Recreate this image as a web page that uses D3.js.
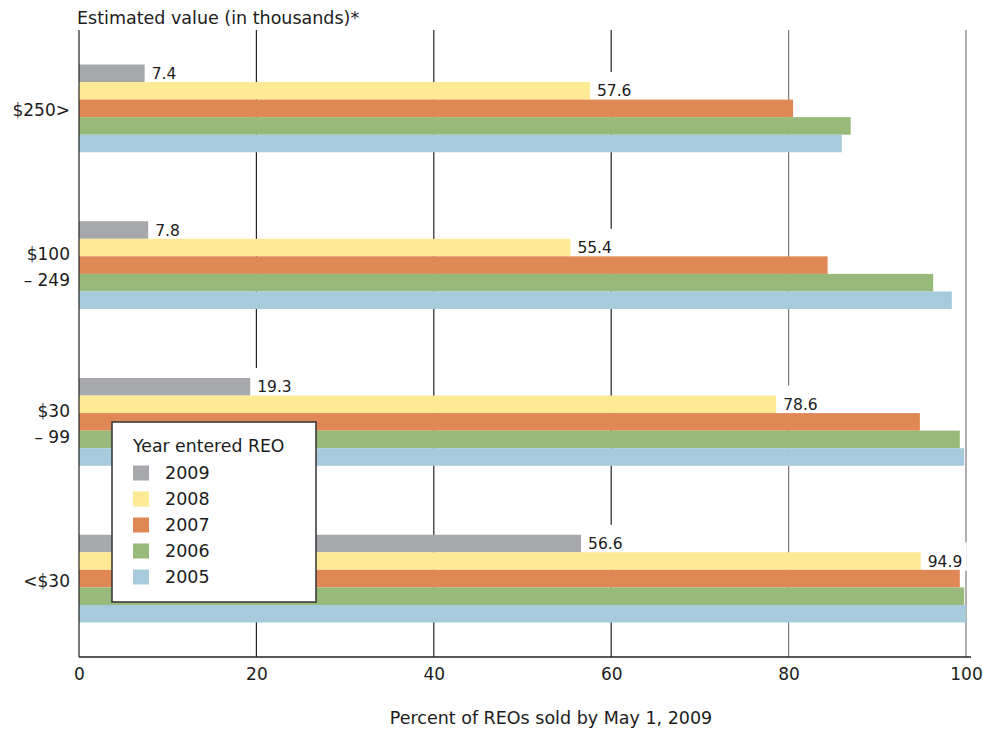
<!DOCTYPE html>
<html>
<head>
<meta charset="utf-8">
<script src="https://cdn.jsdelivr.net/npm/d3@7"></script>
<style>
  body { margin: 0; background: #fff; }
  svg { display: block; font-family: "DejaVu Sans", "Noto Sans", sans-serif; }
</style>
</head>
<body>
<svg id="chart" width="993" height="730"></svg>
<script>
// ---- data ----
const categories = ["$250>", "$100\n– 249", "$30\n– 99", "<$30"];
const years = ["2009", "2008", "2007", "2006", "2005"];
const colors = ["#a7a8ac", "#fee994", "#df8855", "#97ba7a", "#a7cbdc"];
const values2009 = [7.4, 7.8, 19.3, 56.6];
const values2008 = [57.6, 55.4, 78.6, 94.9];
const values2007 = [80.5, 84.4, 94.8, 99.3];
const values2006 = [87.0, 96.3, 99.3, 99.8];
const values2005 = [86.0, 98.4, 99.8, 100];
const labelledYears = ["2009", "2008"];
const xTicks = [0, 20, 40, 60, 80, 100];
const titleText = "Estimated value (in thousands)*";
const xTitle = "Percent of REOs sold by May 1, 2009";
const legendTitle = "Year entered REO";

const seriesValues = [values2009, values2008, values2007, values2006, values2005];
const rows = [];
categories.forEach((c, ci) => {
  years.forEach((y, yi) => rows.push({ cat: c, year: y, value: seriesValues[yi][ci], color: colors[yi] }));
});

// ---- layout ----
const svg = d3.select("#chart");
const mLeft = 79, mRight = 966, mTop = 30, mBottom = 657;
const ink = "#1c1c1c";

const x = d3.scaleLinear().domain([0, 100]).range([mLeft, mRight]);
const y0 = d3.scaleBand().domain(categories).range([mTop, mBottom]).paddingInner(0.44).paddingOuter(0.22);
const y1 = d3.scaleBand().domain(years).range([0, y0.bandwidth()]);
const color = d3.scaleOrdinal().domain(years).range(colors);

// gridlines
svg.append("g").selectAll("line").data(xTicks.slice(1)).join("line")
  .attr("x1", d => x(d)).attr("x2", d => x(d))
  .attr("y1", mTop).attr("y2", mBottom)
  .attr("stroke", d => d >= 80 ? "#7a7a7a" : "#222")
  .attr("stroke-width", 1.2);

const labelled = rows.filter(r => labelledYears.includes(r.year));

// label backgrounds (hide gridlines behind labels)
svg.append("g").selectAll("rect").data(labelled).join("rect")
  .attr("x", d => x(d.value))
  .attr("y", d => y0(d.cat) + y1(d.year) - 10)
  .attr("width", d => d3.format(".1f")(d.value).length * 9 + 10)
  .attr("height", y1.bandwidth() + 11)
  .attr("fill", "#fff");

// bars
svg.append("g").selectAll("rect").data(rows).join("rect")
  .attr("x", x(0))
  .attr("y", d => y0(d.cat) + y1(d.year))
  .attr("width", d => x(d.value) - x(0))
  .attr("height", y1.bandwidth())
  .attr("fill", d => color(d.year));

// value labels
svg.append("g").selectAll("text").data(labelled).join("text")
  .attr("x", d => x(d.value) + 7)
  .attr("y", d => y0(d.cat) + y1(d.year) + y1.bandwidth() / 2 + 1)
  .attr("dominant-baseline", "middle")
  .attr("font-size", 15.5)
  .attr("fill", ink)
  .text(d => d3.format(".1f")(d.value));

// left axis line and bottom axis line
svg.append("line").attr("x1", mLeft).attr("x2", mLeft).attr("y1", mTop).attr("y2", mBottom)
  .attr("stroke", "#222").attr("stroke-width", 1.2);
svg.append("line").attr("x1", mLeft).attr("x2", x(100) + 5).attr("y1", mBottom).attr("y2", mBottom)
  .attr("stroke", "#222").attr("stroke-width", 1.4);

// x tick labels via axis
const xAxis = svg.append("g").attr("transform", `translate(0,${mBottom})`)
  .call(d3.axisBottom(x).tickValues(xTicks).tickSize(0).tickPadding(11));
xAxis.select(".domain").remove();
xAxis.selectAll("text").attr("font-size", 17).attr("fill", ink).attr("font-family", "DejaVu Sans, sans-serif");

// category labels
const catG = svg.append("g");
categories.forEach(c => {
  const lines = c.split("\n");
  const cy = y0(c) + y0.bandwidth() / 2;
  const lh = 26;
  lines.forEach((ln, i) => {
    catG.append("text")
      .attr("x", 70)
      .attr("y", cy + (i - (lines.length - 1) / 2) * lh + 3)
      .attr("text-anchor", "end")
      .attr("dominant-baseline", "middle")
      .attr("font-size", 17)
      .attr("fill", ink)
      .text(ln);
  });
});

// titles
svg.append("text").attr("x", 77).attr("y", 24).attr("font-size", 17.5).attr("fill", ink).text(titleText);
svg.append("text").attr("x", 551).attr("y", 724).attr("text-anchor", "middle")
  .attr("font-size", 17.5).attr("fill", ink).text(xTitle);

// legend
const lg = svg.append("g");
lg.append("rect").attr("x", 112).attr("y", 422).attr("width", 204).attr("height", 180)
  .attr("fill", "#fff").attr("stroke", "#333").attr("stroke-width", 1.5);
lg.append("text").attr("x", 133).attr("y", 452).attr("font-size", 17.3).attr("fill", ink).text(legendTitle);
const ly = d3.scalePoint().domain(years).range([473, 577]);
lg.selectAll("rect.sw").data(years).join("rect").attr("class", "sw")
  .attr("x", 133).attr("y", d => ly(d) - 7.5).attr("width", 16).attr("height", 15)
  .attr("fill", d => color(d));
lg.selectAll("text.lt").data(years).join("text").attr("class", "lt")
  .attr("x", 165).attr("y", d => ly(d) + 1).attr("dominant-baseline", "middle")
  .attr("font-size", 17.5).attr("fill", ink).text(d => d);
</script>
</body>
</html>
